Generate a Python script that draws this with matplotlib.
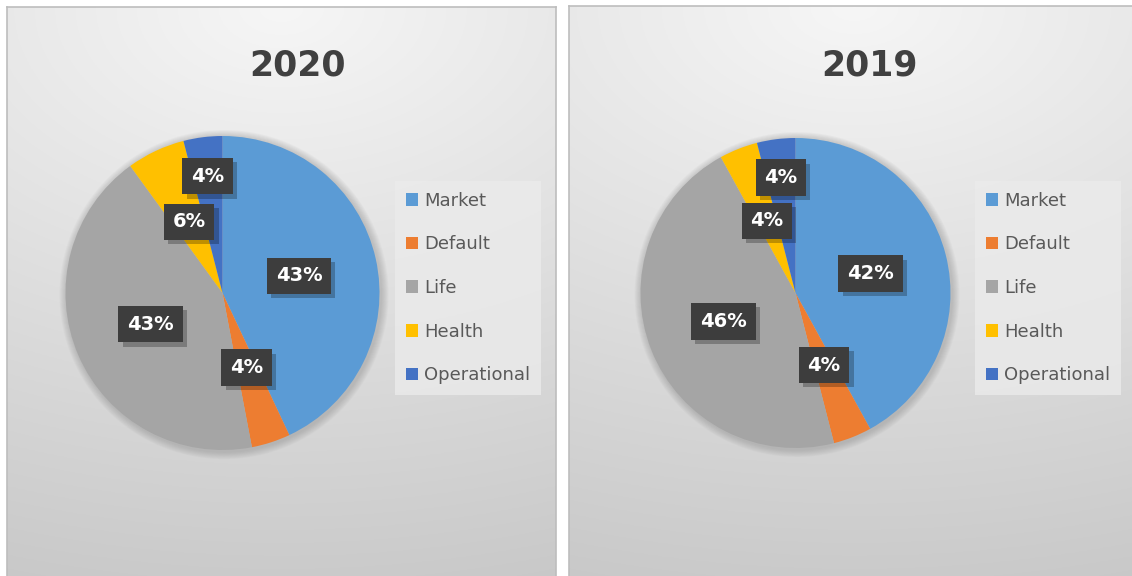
import numpy as np
import matplotlib.pyplot as plt
import matplotlib.patheffects as pe

# data
categories = ['Market', 'Default', 'Life', 'Health', 'Operational']
values_2020 = [43, 4, 43, 6, 4]
values_2019 = [42, 4, 46, 4, 4]
colors = ['#5B9BD5', '#ED7D31', '#A5A5A5', '#FFC000', '#4472C4']

W, H = 1132, 576
LABEL_R = [0.5, 0.5, 0.5, 0.5, 0.75]   # radius of each data label (Excel nudges the last one)


def fx(px):
    return px / W


def fy(py):
    return 1 - py / H


def panel_background(fig, x0, y0, x1, y1):
    ax = fig.add_axes([fx(x0), fy(y1), fx(x1 - x0), (y1 - y0) / H])
    u = np.linspace(0, 1, 300)
    v = np.linspace(0, 1, 300)
    uu, vv = np.meshgrid(u, v)
    d = np.clip(np.sqrt(((uu - 0.5) * 0.6) ** 2 + vv ** 2), 0, 1.05)
    g = 0.965 - 0.175 * d
    img = np.dstack([g, g, g])
    ax.imshow(img, extent=(0, 1, 0, 1), origin='upper', aspect='auto')
    ax.set_xlim(0, 1)
    ax.set_ylim(0, 1)
    ax.set_xticks([])
    ax.set_yticks([])
    for s in ax.spines.values():
        s.set_color('#bdbdbd')
        s.set_linewidth(1.2)
    return ax


def draw_pie(fig, title, values, cx, cy, r, title_x, leg_x):
    ax = fig.add_axes([fx(cx - r), fy(cy + r), fx(2 * r), 2 * r / H])
    # soft shadow around the pie
    for k in range(8):
        ax.add_patch(plt.Circle((0.01, -0.01), 1.0 + 0.006 * (k + 1), color='#808080',
                                alpha=0.05, lw=0, zorder=0, clip_on=False))
    wedges, _ = ax.pie(values, colors=colors, startangle=90, counterclock=False,
                       radius=1.0, wedgeprops=dict(linewidth=0, clip_on=False))
    for w in wedges:
        w.set_zorder(2)
    ax.set_xlim(-1, 1)
    ax.set_ylim(-1, 1)
    ax.set_aspect('auto')
    ax.axis('off')

    # data labels
    start = 90.0
    total = float(sum(values))
    for v, lr in zip(values, LABEL_R):
        mid = start - 360.0 * v / total / 2
        start -= 360.0 * v / total
        x = lr * np.cos(np.radians(mid))
        y = lr * np.sin(np.radians(mid))
        t = ax.text(x, y, f'{v}%', fontsize=14, fontweight='bold', color='white',
                    ha='center', va='center', zorder=4,
                    bbox=dict(boxstyle='square,pad=0.45', fc='#3d3d3d', ec='none'))
        t.get_bbox_patch().set_path_effects([
            pe.SimplePatchShadow(offset=(3, -3), shadow_rgbFace='black', alpha=0.25),
            pe.Normal()])

    fig.text(fx(title_x), fy(66), title, fontsize=25, fontweight='bold', color='#404040',
             ha='center', va='center')

    leg = ax.legend(wedges, categories, loc='upper left',
                    bbox_to_anchor=(fx(leg_x), fy(181)), bbox_transform=fig.transFigure,
                    frameon=True, fancybox=False, fontsize=13, handlelength=0.7,
                    handleheight=0.7, handletextpad=0.3, labelspacing=1.42,
                    borderpad=0.6, borderaxespad=0)
    leg.get_frame().set_facecolor('#ebebeb')
    leg.get_frame().set_edgecolor('none')
    leg.get_frame().set_alpha(0.8)
    for t in leg.get_texts():
        t.set_color('#595959')
    return ax


fig = plt.figure(figsize=(W / 100, H / 100), dpi=100)
fig.patch.set_facecolor('white')

panel_background(fig, 7, 7, 556, 590)
panel_background(fig, 569, 6, 1140, 590)

draw_pie(fig, '2020', values_2020, 222.5, 293, 157, 298, 395)
draw_pie(fig, '2019', values_2019, 795.5, 293, 155, 870, 975)

fig.savefig('out.png', dpi=100)
